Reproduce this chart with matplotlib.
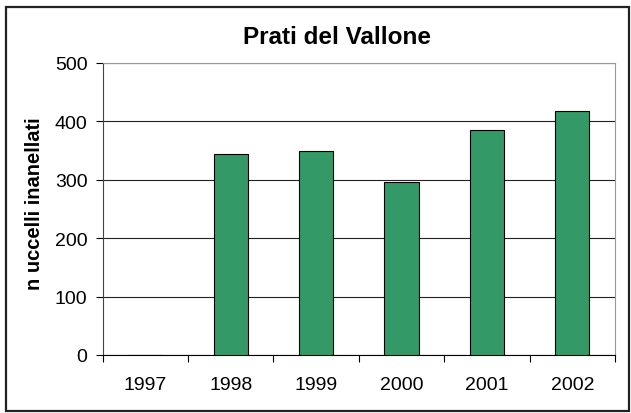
import matplotlib.pyplot as plt
from matplotlib.patches import Rectangle
import numpy as np

plt.rcParams['font.family'] = ['Liberation Sans', 'DejaVu Sans']

# Dati: uccelli inanellati per anno
anni = ['1997', '1998', '1999', '2000', '2001', '2002']
uccelli = [0, 345, 350, 296, 386, 417]

W, H = 631, 414
fig = plt.figure(figsize=(W / 100, H / 100), dpi=100)

# cornice esterna del grafico
fig.patches.append(Rectangle((6 / W, 2 / H), 623 / W, 404 / H,
                             transform=fig.transFigure, fill=False,
                             edgecolor='#222222', linewidth=1.6))

ax = fig.add_axes([102.7 / W, 58 / H, 512.3 / W, 292 / H])

x = np.arange(len(anni))
ax.bar(x, uccelli, width=0.4, color='#339966', edgecolor='black', linewidth=0.8, zorder=3)

ax.set_xlim(-0.5, len(anni) - 0.5)
ax.set_ylim(0, 500)
ax.set_yticks(range(0, 501, 100))
ax.yaxis.grid(True, color='#222222', linewidth=0.8, zorder=0)

ax.set_xticks(x)
ax.set_xticklabels(anni)
ax.set_xticks(np.arange(-0.5, len(anni)), minor=True)
ax.tick_params(axis='x', which='major', length=0, pad=15, labelsize=14)
ax.tick_params(axis='x', which='minor', length=5, width=0.8, direction='out')
ax.tick_params(axis='y', length=5, width=0.8, direction='out', pad=6, labelsize=14)

for side in ['top', 'right']:
    ax.spines[side].set_color('#999999')
    ax.spines[side].set_linewidth(0.8)
ax.spines['left'].set_color('#444444')
ax.spines['bottom'].set_color('black')
ax.spines['left'].set_linewidth(0.8)
ax.spines['bottom'].set_linewidth(0.8)

fig.text(35 / W, 210 / H, 'n uccelli inanellati', rotation=90, ha='center', va='center',
         fontsize=14.5, fontweight='bold')
fig.text(337 / W, 1 - 38 / H, 'Prati del Vallone', ha='center', va='center',
         fontsize=17.5, fontweight='bold')

fig.savefig('out.png', dpi=100)
